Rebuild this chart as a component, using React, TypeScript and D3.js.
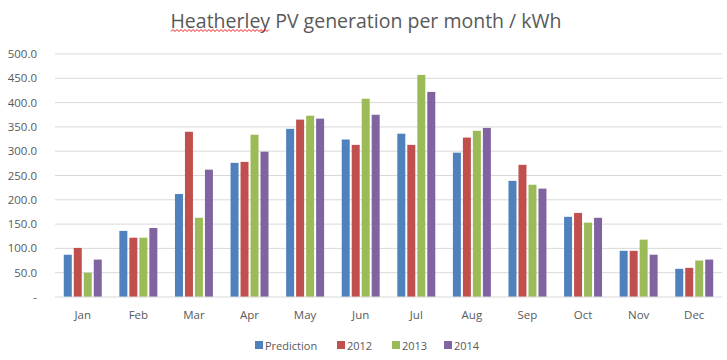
import React from "react";
import * as d3 from "d3";

const months = ["Jan", "Feb", "Mar", "Apr", "May", "Jun", "Jul", "Aug", "Sep", "Oct", "Nov", "Dec"];
const seriesNames = ["Prediction", "2012", "2013", "2014"];
const prediction = [87, 136, 212, 276, 346, 324, 336, 297, 239, 165, 95, 58];
const y2012 = [101, 122, 340, 278, 365, 313, 313, 328, 272, 173, 95, 60];
const y2013 = [50, 122, 163, 334, 373, 408, 457, 342, 231, 153, 118, 75];
const y2014 = [77, 142, 262, 299, 367, 375, 422, 348, 223, 163, 87, 77];
const yTicks = [0, 50, 100, 150, 200, 250, 300, 350, 400, 450, 500];
const colors = ["#4F81BD", "#C0504D", "#9BBB59", "#8064A2"];

const W = 727, H = 360;
const left = 55, right = 722, top = 54, bottom = 297;
const font = "'Open Sans', 'Noto Sans', sans-serif";

export default function App() {
  const series = [prediction, y2012, y2013, y2014];
  const x0 = d3.scaleBand<string>().domain(months).range([left, right]).paddingInner(0.317).paddingOuter(0.158);
  const x1 = d3.scaleBand<string>().domain(seriesNames).range([0, x0.bandwidth()]).paddingInner(0.2);
  const y = d3.scaleLinear().domain([0, 500]).range([bottom, top]);

  const legendX = [255, 337, 392, 444];

  // spell-check squiggle under "Heatherley"
  const sq: string[] = [];
  for (let i = 0, xx = 171; xx < 270; i++, xx += 2) {
    sq.push(`${i === 0 ? "M" : "L"}${xx},${i % 2 === 0 ? 31.5 : 29.5}`);
  }

  return (
    <svg width={W} height={H} style={{ position: "absolute", left: 0, top: 0, background: "#fff" }} fontFamily={font}>
      <rect width={W} height={H} fill="#fff" />
      <text x={366} y={28} textAnchor="middle" fontSize={19.5} fill="#595959" fontFamily="'Open Sans', sans-serif">
        Heatherley PV generation per month / kWh
      </text>
      <path d={sq.join("")} fill="none" stroke="#e00" strokeWidth={0.9} />
      {yTicks.map((t) => (
        <g key={t}>
          {t > 0 && <line x1={left} x2={right} y1={y(t)} y2={y(t)} stroke="#D9D9D9" strokeWidth={1} />}
          <text x={37} y={y(t) + 4} textAnchor="end" fontSize={11.5} fill="#595959">
            {t === 0 ? "-" : d3.format(".1f")(t)}
          </text>
        </g>
      ))}
      {months.map((m, i) => (
        <g key={m} transform={`translate(${x0(m)},0)`}>
          {series.map((s, j) => (
            <rect key={j} x={x1(seriesNames[j])} y={y(s[i])} width={x1.bandwidth()} height={y(0) - y(s[i])} fill={colors[j]} />
          ))}
        </g>
      ))}
      <line x1={left} x2={right} y1={bottom} y2={bottom} stroke="#D9D9D9" strokeWidth={1} />
      {months.map((m) => (
        <text key={m} x={(x0(m) ?? 0) + x0.bandwidth() / 2} y={319} textAnchor="middle" fontSize={11.5} fill="#595959">
          {m}
        </text>
      ))}
      {seriesNames.map((n, j) => (
        <g key={n}>
          <rect x={legendX[j]} y={341} width={8} height={8} fill={colors[j]} />
          <text x={legendX[j] + 10} y={349.5} fontSize={11} fill="#595959">{n}</text>
        </g>
      ))}
    </svg>
  );
}
